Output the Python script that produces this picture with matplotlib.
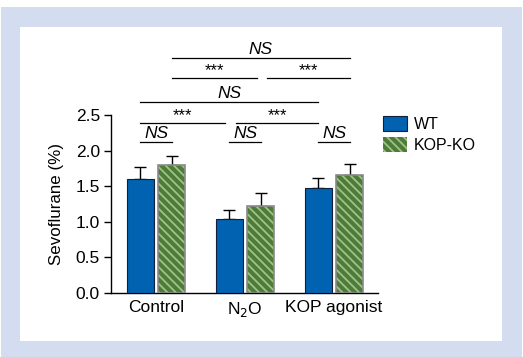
import matplotlib.pyplot as plt
from matplotlib.patches import Rectangle
import numpy as np

plt.rcParams['font.family'] = ['Liberation Sans', 'DejaVu Sans']
plt.rcParams['hatch.linewidth'] = 1.3

groups = ['Control', 'N$_2$O', 'KOP agonist']
wt_mean = [1.60, 1.04, 1.47]
wt_err = [0.17, 0.13, 0.14]
ko_mean = [1.80, 1.22, 1.66]
ko_err = [0.12, 0.18, 0.15]

# significance brackets: (group a, series a, group b, series b, level, label)
brackets = [
    (0, 'wt', 0, 'ko', 2.12, 'NS'),
    (1, 'wt', 1, 'ko', 2.12, 'NS'),
    (2, 'wt', 2, 'ko', 2.12, 'NS'),
    (0, 'wt', 1, 'wt', 2.39, '***'),
    (1, 'wt', 2, 'wt', 2.39, '***'),
    (0, 'wt', 2, 'wt', 2.68, 'NS'),
    (0, 'ko', 1, 'ko', 3.02, '***'),
    (1, 'ko', 2, 'ko', 3.02, '***'),
    (0, 'ko', 2, 'ko', 3.30, 'NS'),
]

blue = '#0062b0'
green_dark = '#4c7d38'
green_light = '#a3bf8a'
frame = '#d4ddef'

fig = plt.figure(figsize=(5.23, 3.57), dpi=100)
fig.patches.append(Rectangle((1 / 523, 0), 521 / 523, 350 / 357, transform=fig.transFigure,
                             facecolor=frame, edgecolor='none', zorder=-10))
fig.patches.append(Rectangle((20 / 523, 16 / 357), 482 / 523, 314 / 357, transform=fig.transFigure,
                             facecolor='white', edgecolor='none', zorder=-9))

ax = fig.add_axes([111 / 523, 1 - 293 / 357, 267 / 523, 178 / 357])
ax.patch.set_alpha(0)

x = np.arange(len(groups))
off = 0.175
w = 0.31
pos = {'wt': x - off, 'ko': x + off}

ax.bar(pos['wt'], wt_mean, w, color=blue, edgecolor='#10203a', linewidth=0.8, zorder=3, label='WT')
ax.errorbar(pos['wt'], wt_mean, yerr=[np.zeros(3), wt_err], fmt='none', ecolor='black',
            elinewidth=1, capsize=4.6, capthick=1, zorder=2)
ax.bar(pos['ko'], ko_mean, w, color=green_dark, edgecolor=green_light, linewidth=0,
       hatch='\\\\\\\\', zorder=3)
ax.bar(pos['ko'], ko_mean, w, facecolor='none', edgecolor='#8a8a8a', linewidth=1.2, zorder=4)
ax.errorbar(pos['ko'], ko_mean, yerr=[np.zeros(3), ko_err], fmt='none', ecolor='black',
            elinewidth=1, capsize=4.6, capthick=1, zorder=2)

for ga, sa, gb, sb, lvl, lab in brackets:
    x1 = pos[sa][ga]
    x2 = pos[sb][gb]
    if lab == '***':
        if ga == 0:
            x2 -= 0.045
        else:
            x1 += 0.07
    ax.plot([x1, x2], [lvl, lvl], color='black', lw=0.9, clip_on=False)
    if lab == 'NS':
        ax.text((x1 + x2) / 2, lvl + 0.02, lab, ha='center', va='bottom', fontsize=12.5,
                style='italic')
    else:
        ax.text((x1 + x2) / 2, lvl + 0.0, lab, ha='center', va='bottom', fontsize=12)

ax.set_xlim(-0.506, 2.494)
ax.set_ylim(0, 2.5)
ax.set_yticks(np.arange(0, 2.51, 0.5))
ax.set_yticklabels([f'{v:.1f}' for v in np.arange(0, 2.51, 0.5)])
ax.set_xticks(x)
ax.set_xticklabels(groups)
ax.tick_params(axis='x', length=0, pad=5, labelsize=12.5)
ax.tick_params(axis='y', length=5, width=1, pad=3, labelsize=12.5)
ax.spines['top'].set_visible(False)
ax.spines['right'].set_visible(False)
ax.spines['left'].set_linewidth(1)
ax.spines['bottom'].set_linewidth(1)
ax.set_ylabel('Sevoflurane (%)', fontsize=12.2, labelpad=8)

wt_h = Rectangle((0, 0), 1, 1, facecolor=blue, edgecolor='#10203a', linewidth=0.8)
ko_h = Rectangle((0, 0), 1, 1, facecolor=green_dark, edgecolor=green_light, hatch='\\\\\\\\', linewidth=0)
ax.legend([wt_h, ko_h], ['WT', 'KOP-KO'], loc='upper left', bbox_to_anchor=(0.965, 1.075),
          frameon=False, fontsize=11.5, handlelength=1.5, handleheight=1.05,
          handletextpad=0.45, labelspacing=0.35)

fig.savefig('out.png', dpi=100)
